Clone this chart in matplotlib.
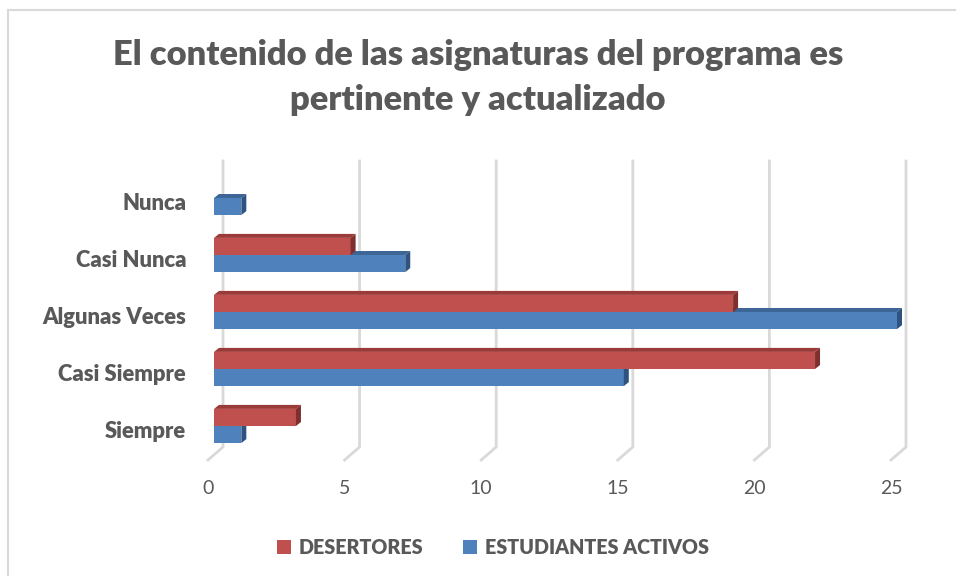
import matplotlib.pyplot as plt
from matplotlib.patches import Rectangle, Polygon
import numpy as np

# data
categorias = ['Siempre', 'Casi Siempre', 'Algunas Veces', 'Casi Nunca', 'Nunca']
desertores = [3, 22, 19, 5, 0]
activos = [1, 15, 25, 7, 1]
ticks = [0, 5, 10, 15, 20, 25]

rojo = '#c0504d'
rojo_top = '#9b3b39'
rojo_side = '#7f2f2d'
azul = '#4f81bd'
azul_top = '#3d6596'
azul_side = '#2f5380'
gris = '#595959'

plt.rcParams['font.family'] = ['Lato', 'DejaVu Sans']

fig = plt.figure(figsize=(9.56, 5.76), dpi=100)
ax = fig.add_axes([0, 0, 1, 1])
# data coords mapped onto pixels: x 0 -> 214px, 27.32 px/unit; y 0 -> 426px, 57 px/unit
ax.set_xlim(-214 / 27.32, (956 - 214) / 27.32)
ax.set_ylim((426 - 576) / 57, 426 / 57)
ax.axis('off')

# border (top/left only visible)
ax.add_patch(Rectangle((-206 / 27.32, (426 - 700) / 57), 1200 / 27.32, (700 - 10) / 57,
                       fill=False, ec='#d9d9d9', lw=1.5, zorder=0))

# depth offsets
ddx = 5 / 27.32
ddy = 4 / 57
h = 0.3
y_top = (426 - 161) / 57
y_wall = (426 - 447) / 57
y_floor = (426 - 460) / 57
for t in ticks:
    xb = t + 9 / 27.32
    xf = t - 6 / 27.32
    ax.plot([xb, xb, xf], [y_top, y_wall, y_floor], color='#d9d9d9', lw=2, zorder=1,
            solid_joinstyle='miter')
    ax.text(t - 6 / 27.32, (426 - 488) / 57, str(t), ha='center', va='center',
            fontsize=14, color=gris)

def bar3d(y0, w, face, top, side):
    ax.add_patch(Rectangle((0, y0), w, h, fc=face, ec='none', zorder=3))
    ax.add_patch(Polygon([(0, y0 + h), (w, y0 + h), (w + ddx, y0 + h + ddy), (ddx, y0 + h + ddy)],
                         closed=True, fc=top, ec='none', zorder=3))
    ax.add_patch(Polygon([(w, y0), (w + ddx, y0 + ddy), (w + ddx, y0 + h + ddy), (w, y0 + h)],
                         closed=True, fc=side, ec='none', zorder=3))

for i, cat in enumerate(categorias):
    # blue (lower) first so red top face sits over it
    if activos[i] > 0:
        bar3d(i - h, activos[i], azul, azul_top, azul_side)
    if desertores[i] > 0:
        bar3d(i, desertores[i], rojo, rojo_top, rojo_side)
    ax.text(-28 / 27.32, i - 0.09, cat, ha='right', va='center', fontsize=15.8,
            fontweight='heavy', color=gris)

fig.text(0.5, 1 - 55 / 576, 'El contenido de las asignaturas del programa es',
         ha='center', va='center', fontsize=24.8, fontweight='heavy', color=gris)
fig.text(0.5, 1 - 100 / 576, 'pertinente y actualizado',
         ha='center', va='center', fontsize=24.8, fontweight='heavy', color=gris)

# legend
h1 = Rectangle((0, 0), 1, 1, fc=rojo, ec='none')
h2 = Rectangle((0, 0), 1, 1, fc=azul, ec='none')
leg = fig.legend([h1, h2], ['DESERTORES', 'ESTUDIANTES ACTIVOS'], loc='center',
                 bbox_to_anchor=(493 / 956, 1 - 547 / 576), ncol=2, frameon=False,
                 handlelength=0.7, handleheight=0.7, handletextpad=0.4, columnspacing=2.0,
                 prop={'size': 14.2, 'weight': 'heavy'})
for txt in leg.get_texts():
    txt.set_color(gris)

fig.savefig('out.png', dpi=100)
